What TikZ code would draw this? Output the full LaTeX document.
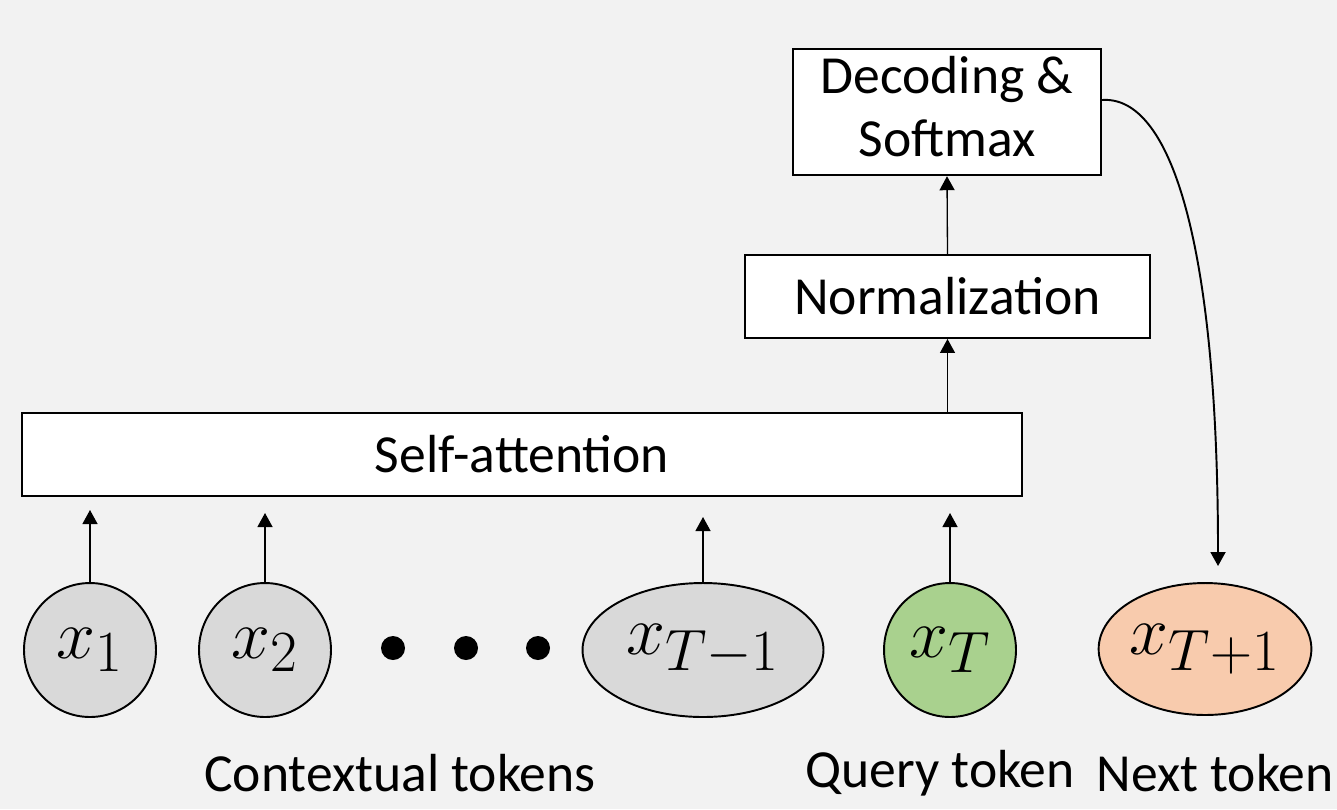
\documentclass[tikz,border=0pt]{standalone}
\usepackage{fontspec}
\setmainfont{Carlito}
\usepackage{tikz}
\usetikzlibrary{shapes.geometric}
\usetikzlibrary{arrows.meta}

\definecolor{bggray}{HTML}{F2F2F2}
\definecolor{tokgray}{HTML}{D9D9D9}
\definecolor{querygreen}{HTML}{A9D18E}
\definecolor{nextorange}{HTML}{F8CBAD}

\newcommand{\tokmath}[1]{\scalebox{1.6}{$#1$}}

\tikzset{
  block/.style={draw, line width=1.1pt, fill=white, inner sep=0pt, align=center,
    font=\fontsize{30.5}{36}\selectfont},
  token/.style={ellipse, draw, line width=1.1pt, fill=tokgray, inner sep=0pt,
    font=\fontsize{24.88}{30}\selectfont},
  caption/.style={font=\fontsize{30.5}{36}\selectfont},
  flow/.style={-{Triangle[length=0.28cm, width=0.3cm]}, line width=0.75pt},
  dot/.style={circle, fill=black, inner sep=0pt, minimum size=0.48cm},
}

\begin{document}
\begin{tikzpicture}[x=0.02cm, y=-0.02cm]

  \fill[bggray] (0,0) rectangle (1337,809);
  \useasboundingbox (0,0) rectangle (1337,809);

  % Define nodes
  \node[block, minimum width=6.16cm, minimum height=2.4cm] (dec) at (947,112)
    {\raisebox{0.3cm}{\begin{tabular}{@{}c@{}}Decoding \&\\Softmax\end{tabular}}};
  \node[block, minimum width=8.1cm, minimum height=1.66cm] (norm) at (947.5,296.5) {Normalization};
  \node[block, minimum width=20cm, minimum height=1.66cm] (attn) at (522,454.5) {Self-attention};

  \node[token, minimum width=2.64cm, minimum height=2.68cm] (x1) at (90,650) {\tokmath{x_1}};
  \node[token, minimum width=2.64cm, minimum height=2.68cm] (x2) at (265,650) {\tokmath{x_2}};
  \node[dot] (d1) at (393,648) {};
  \node[dot] (d2) at (466,648) {};
  \node[dot] (d3) at (538,648) {};
  \node[token, minimum width=4.82cm, minimum height=2.68cm] (xprev) at (703,650) {\tokmath{x_{T-1}}};
  \node[token, fill=querygreen, minimum width=2.64cm, minimum height=2.68cm] (xq) at (950,650) {\tokmath{x_T}};
  \node[token, fill=nextorange, minimum width=4.1cm, minimum height=2.64cm] (xnext) at (1205,649) {\tokmath{x_{T+1}}};

  \node[caption] (ctx) at (400,773) {Contextual tokens};
  \node[caption] (qry) at (940,773) {Query token};
  \node[caption] (nxt) at (1215,773) {Next token};

  \coordinate (in1) at (90,510);
  \coordinate (in2) at (265,513);
  \coordinate (inprev) at (703,517);
  \coordinate (inq) at (950,513);
  \coordinate (out) at (1218,566);

  % Connect nodes
  \draw[flow] (x1.north) -- (in1);
  \draw[flow] (x2.north) -- (in2);
  \draw[flow] (xprev.north) -- (inprev);
  \draw[flow] (xq.north) -- (inq);
  \draw[flow] (attn.north -| norm.south) -- (norm.south);
  \draw[flow] (norm.north) -- (dec.south);
  \draw[flow, line width=1.1pt] ([yshift=0.24cm]dec.east) .. controls (1170,95) and (1218,240) .. (out);

\end{tikzpicture}
\end{document}
